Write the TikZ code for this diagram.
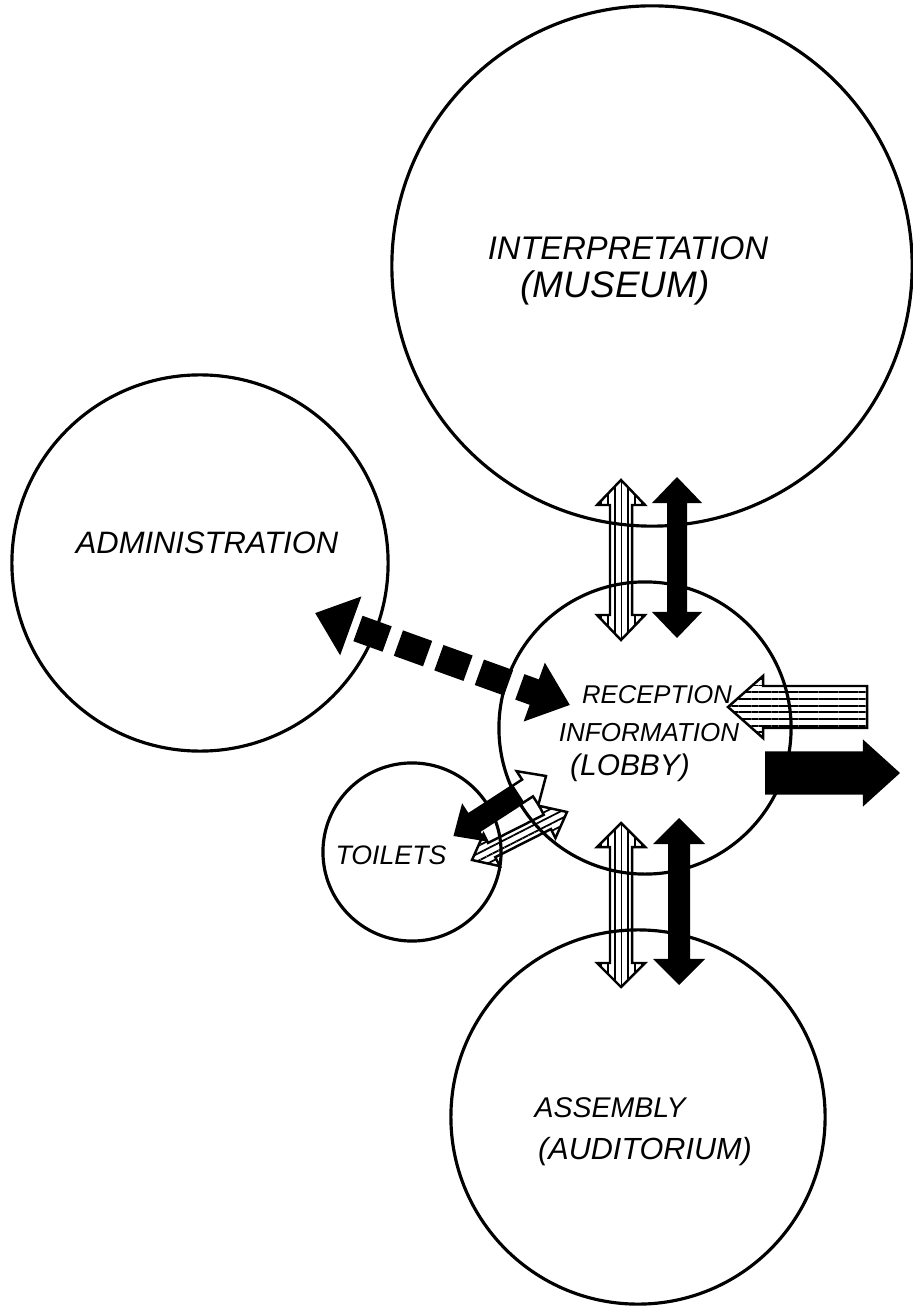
\documentclass[tikz,border=0pt]{standalone}
\usepackage{fontspec}
\setsansfont{Liberation Sans}
\usetikzlibrary{calc,arrows.meta,patterns.meta}

\tikzset{
  room/.style={circle,draw,line width=0.9pt,inner sep=0pt},
  tag/.style={inner sep=1pt,font=\sffamily\itshape\fontsize{#1}{#1}\selectfont},
  solidflow/.style={fill=black},
  hatchflow/.style={draw,line width=0.7pt,pattern={Lines[angle=#1,distance=1.9pt,line width=0.5pt]}},
  dashflow/.style={line width=0.27cm,dash pattern=on 0.31cm off 0.12cm,dash phase=0.33cm,
    arrows={Triangle[width=0.6cm,length=0.38cm]-Triangle[width=0.6cm,length=0.38cm]}},
}

% double block arrow: tips #2,#3; shaft half width #4, head half width #5, head length #6
\newcommand{\flowarrow}[6][]{%
  \path[#1] (#2) -- ($(#2)!#6!(#3)!#5!90:(#3)$) -- ($(#2)!#6!(#3)!#4!90:(#3)$)
    -- ($(#3)!#6!(#2)!#4!270:(#2)$) -- ($(#3)!#6!(#2)!#5!270:(#2)$) -- (#3)
    -- ($(#3)!#6!(#2)!#5!90:(#2)$) -- ($(#3)!#6!(#2)!#4!90:(#2)$)
    -- ($(#2)!#6!(#3)!#4!270:(#3)$) -- ($(#2)!#6!(#3)!#5!270:(#3)$) -- cycle;}
% single block arrow: tip #2, flat tail #3
\newcommand{\flowhead}[6][]{%
  \path[#1] (#2) -- ($(#2)!#6!(#3)!#5!90:(#3)$) -- ($(#2)!#6!(#3)!#4!90:(#3)$)
    -- ($(#3)!#4!270:(#2)$) -- ($(#3)!#4!90:(#2)$)
    -- ($(#2)!#6!(#3)!#4!270:(#3)$) -- ($(#2)!#6!(#3)!#5!270:(#3)$) -- cycle;}

\begin{document}
\begin{tikzpicture}[x=0.01cm,y=-0.01cm]
  \useasboundingbox (0,0) rectangle (912,1307);

  % rooms
  \node[room,minimum size=5.2cm] (museum) at (652,266) {};
  \node[room,minimum size=3.76cm] (admin) at (200,563) {};
  \node[room,minimum size=2.92cm] (lobby) at (645,728) {};
  \node[room,minimum size=1.78cm] (toilets) at (412,852) {};
  \node[room,minimum size=3.74cm] (assembly) at (638,1117) {};

  % labels
  \node[tag=9.3] (interp) at (628,248) {INTERPRETATION};
  \node[tag=10.5] (interpsub) at (615,288) {(MUSEUM)};
  \node[tag=8.8] (admintxt) at (207,543) {ADMINISTRATION};
  \node[tag=7.3] (recep) at (657,695) {RECEPTION};
  \node[tag=7.4] (info) at (649,733) {INFORMATION};
  \node[tag=8.5] (lobbytxt) at (630,768) {(LOBBY)};
  \node[tag=7.6] (toilettxt) at (391,855) {TOILETS};
  \node[tag=8.1] (assem) at (610,1108) {ASSEMBLY};
  \node[tag=8.7] (assemsub) at (645,1152) {(AUDITORIUM)};

  % arrow ends
  \coordinate (mhA) at (621,480); \coordinate (mhB) at (621,640);
  \coordinate (mbA) at (677,477); \coordinate (mbB) at (677,638);
  \coordinate (ahA) at (621,823); \coordinate (ahB) at (621,987);
  \coordinate (abA) at (679,818); \coordinate (abB) at (679,985);
  \coordinate (dA) at (315,613);  \coordinate (dB) at (570,705);
  \coordinate (inTip) at (728,707); \coordinate (inTail) at (867,707);
  \coordinate (outTip) at (900,773); \coordinate (outTail) at (765,773);
  \coordinate (tbA) at (455,835); \coordinate (tbB) at (546,776);
  \coordinate (thA) at (472,860); \coordinate (thB) at (567,812);

  % flows
  \flowarrow[hatchflow=90]{mhA}{mhB}{0.11cm}{0.24cm}{0.25cm}
  \flowarrow[solidflow]{mbA}{mbB}{0.1cm}{0.25cm}{0.26cm}
  \flowarrow[hatchflow=90]{ahA}{ahB}{0.11cm}{0.24cm}{0.24cm}
  \flowarrow[solidflow]{abA}{abB}{0.11cm}{0.26cm}{0.26cm}
  \draw[dashflow] (dA) -- (dB);
  \flowhead[hatchflow=0]{inTip}{inTail}{0.21cm}{0.31cm}{0.35cm}
  \flowhead[solidflow]{outTip}{outTail}{0.215cm}{0.335cm}{0.37cm}
  \flowarrow[draw,fill=white,line width=0.7pt]{tbA}{tbB}{0.1cm}{0.2cm}{0.22cm}
  \flowhead[solidflow]{tbA}{$(tbA)!0.7!(tbB)$}{0.1cm}{0.2cm}{0.22cm}
  \flowarrow[hatchflow=27]{thA}{thB}{0.08cm}{0.18cm}{0.22cm}
\end{tikzpicture}
\end{document}
